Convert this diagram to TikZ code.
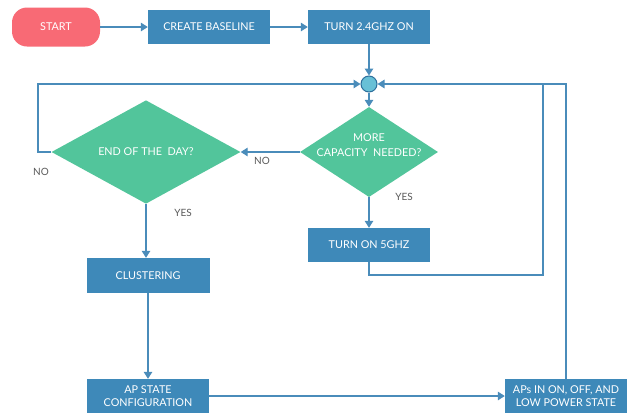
\documentclass[tikz,border=0pt]{standalone}
\usepackage{fontspec}
\setmainfont{Lato}
\usetikzlibrary{shapes.geometric,arrows.meta}
\definecolor{boxblue}{HTML}{3E89B9}
\definecolor{dgreen}{HTML}{52C59B}
\definecolor{startred}{HTML}{F86A75}
\definecolor{linec}{HTML}{4A8CBA}
\definecolor{lblgray}{HTML}{5A5A5A}
\definecolor{jfill}{HTML}{68C0D6}
\definecolor{jdraw}{HTML}{2D6F9C}
\begin{document}
\begin{tikzpicture}[x=1pt,y=-1pt,
  font=\fontsize{10.8}{12}\selectfont,
  procbox/.style={rectangle, fill=boxblue, text=white, minimum width=122pt, minimum height=34pt, inner sep=0pt, align=center, font=\fontsize{10.8}{13.5}\selectfont},
  decbox/.style={diamond, fill=dgreen, text=white, inner sep=0pt, align=center},
  conn/.style={draw=linec, line width=1.4pt},
  arr/.style={conn, -{Triangle[width=8.5pt,length=7pt]}},
  lbl/.style={text=lblgray, font=\fontsize{10}{11}\selectfont}]
\useasboundingbox[fill=white] (0,0) rectangle (635,413);
\node[fill=startred, rounded corners=15pt, minimum width=88pt, minimum height=39pt, text=white] (start) at (56,27) {START};
\node[procbox] (base) at (209,27) {CREATE BASELINE};
\node[procbox] (turn24) at (369,27) {TURN 2.4GHZ ON};
\node[circle, draw=jdraw, fill=jfill, line width=1pt, minimum size=16pt, inner sep=0pt] (junc) at (369,84) {};
\node[decbox, minimum width=138pt, minimum height=90pt] (more) at (369,152) {};
\node[text=white, align=center, inner sep=0pt, font=\fontsize{10.8}{15}\selectfont] (moretxt) at (369,145.5) {MORE\\CAPACITY~ NEEDED?};
\node[decbox, minimum width=189pt, minimum height=90pt] (eod) at (146,152) {END OF THE~ DAY?};
\node[procbox] (g5) at (369,245) {TURN ON 5GHZ};
\node[procbox, minimum width=123pt, minimum height=35pt] (clus) at (148,275.5) {CLUSTERING};
\node[procbox] (apconf) at (148,396) {AP STATE\\CONFIGURATION};
\node[procbox] (aps) at (566,396) {APs IN ON, OFF, AND\\LOW POWER STATE};
\coordinate (lc) at (38,84);
\coordinate (rc1) at (543,275);
\coordinate (rc1top) at (543,84);
% connectors
\draw[arr] (start) -- (base);
\draw[arr] (base) -- (turn24);
\draw[conn] (g5.south) |- (rc1) -- (rc1top);
\draw[arr] (aps.north) |- (junc);
\draw[arr] (eod.west) -| (lc) -- (junc);
\draw[arr] (turn24) -- (junc);
\draw[arr] (junc) -- (more);
\draw[arr] (more) -- (eod);
\draw[arr] (more) -- (g5);
\draw[arr] (eod.south) -- (eod.south |- clus.north);
\draw[arr] (clus) -- (apconf);
\draw[arr] (apconf) -- (aps);
% labels
\node[lbl] (no1) at (262,161) {NO};
\node[lbl] (no2) at (41,172) {NO};
\node[lbl] (yes1) at (183,213) {YES};
\node[lbl] (yes2) at (404,197) {YES};
\end{tikzpicture}
\end{document}
